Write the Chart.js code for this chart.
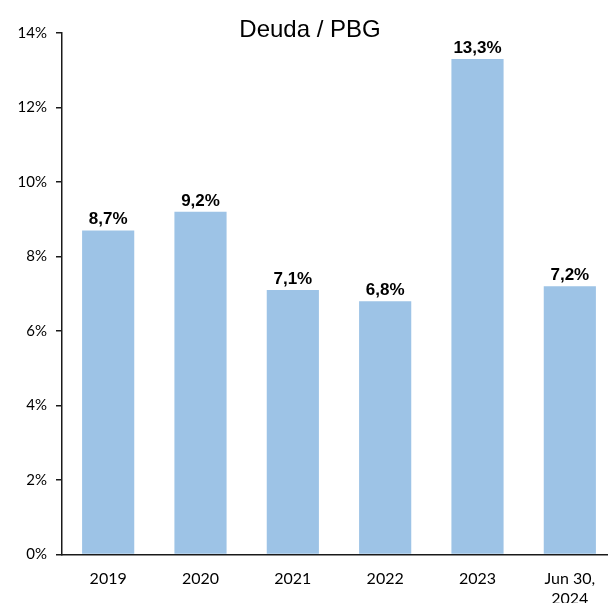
<!DOCTYPE html>
<html>
<head>
<meta charset="utf-8">
<script src="https://cdn.jsdelivr.net/npm/chart.js@4/dist/chart.umd.min.js"></script>
<style>
  html, body { margin: 0; padding: 0; background: #fff; overflow: hidden; }
  #wrap { width: 620px; height: 640px; }
</style>
</head>
<body>
<div id="wrap"><canvas id="deudaChart" width="620" height="640"></canvas></div>
<script>
// Datos del gráfico
const categorias = ['2019', '2020', '2021', '2022', '2023', ['Jun 30,', '2024']];
const deudaPbg = [8.7, 9.2, 7.1, 6.8, 13.3, 7.2];
const ticksY = [0, 2, 4, 6, 8, 10, 12, 14];

const colorBarra = 'rgb(157, 195, 230)';
const colorEje = '#1a1a1a';

// Etiquetas de valor sobre cada barra
const etiquetasBarras = {
    id: 'etiquetasBarras',
    afterDatasetsDraw(chart) {
        const ctx = chart.ctx;
        const meta = chart.getDatasetMeta(0);
        ctx.save();
        ctx.font = 'bold 17px "Liberation Sans", Arial, sans-serif';
        ctx.fillStyle = '#000';
        ctx.textAlign = 'center';
        ctx.textBaseline = 'alphabetic';
        meta.data.forEach((barra, i) => {
            const texto = deudaPbg[i].toFixed(1).replace('.', ',') + '%';
            ctx.fillText(texto, barra.x, barra.y - 6);
        });
        ctx.restore();
    }
};

// Título superpuesto al área del gráfico
const tituloGrafico = {
    id: 'tituloGrafico',
    afterDraw(chart) {
        const ctx = chart.ctx;
        ctx.save();
        ctx.font = '24px "Liberation Sans", Arial, sans-serif';
        ctx.fillStyle = '#000';
        ctx.textAlign = 'center';
        ctx.textBaseline = 'alphabetic';
        ctx.fillText('Deuda / PBG', chart.width / 2, 37);
        ctx.restore();
    }
};

const ctx = document.getElementById('deudaChart').getContext('2d');
new Chart(ctx, {
    type: 'bar',
    data: {
        labels: categorias,
        datasets: [{
            label: 'Deuda / PBG',
            data: deudaPbg,
            backgroundColor: colorBarra,
            borderWidth: 0,
            barPercentage: 0.565,
            categoryPercentage: 1
        }]
    },
    options: {
        responsive: false,
        devicePixelRatio: 1,
        animation: false,
        layout: {
            padding: { top: 33, right: 4, bottom: 25, left: 0 }
        },
        scales: {
            x: {
                grid: { display: false },
                border: { display: true, color: colorEje, width: 1.5 },
                ticks: {
                    color: '#000',
                    font: { family: 'Lato, "Open Sans", sans-serif', size: 16 },
                    padding: 7,
                    maxRotation: 0,
                    autoSkip: false
                }
            },
            y: {
                min: 0,
                max: 14,
                afterBuildTicks(scale) {
                    scale.ticks = ticksY.map(v => ({ value: v }));
                },
                afterFit(scale) {
                    scale.width = 62;
                },
                grid: {
                    display: true,
                    drawOnChartArea: false,
                    drawTicks: true,
                    tickLength: 6,
                    color: colorEje,
                    lineWidth: 1.5
                },
                border: { display: true, color: colorEje, width: 1.5 },
                ticks: {
                    color: '#000',
                    font: { family: 'Lato, "Open Sans", sans-serif', size: 15 },
                    padding: 9,
                    callback: v => v + '%'
                }
            }
        },
        plugins: {
            legend: { display: false },
            title: { display: false },
            tooltip: { enabled: false }
        }
    },
    plugins: [etiquetasBarras, tituloGrafico]
});
</script>
</body>
</html>
